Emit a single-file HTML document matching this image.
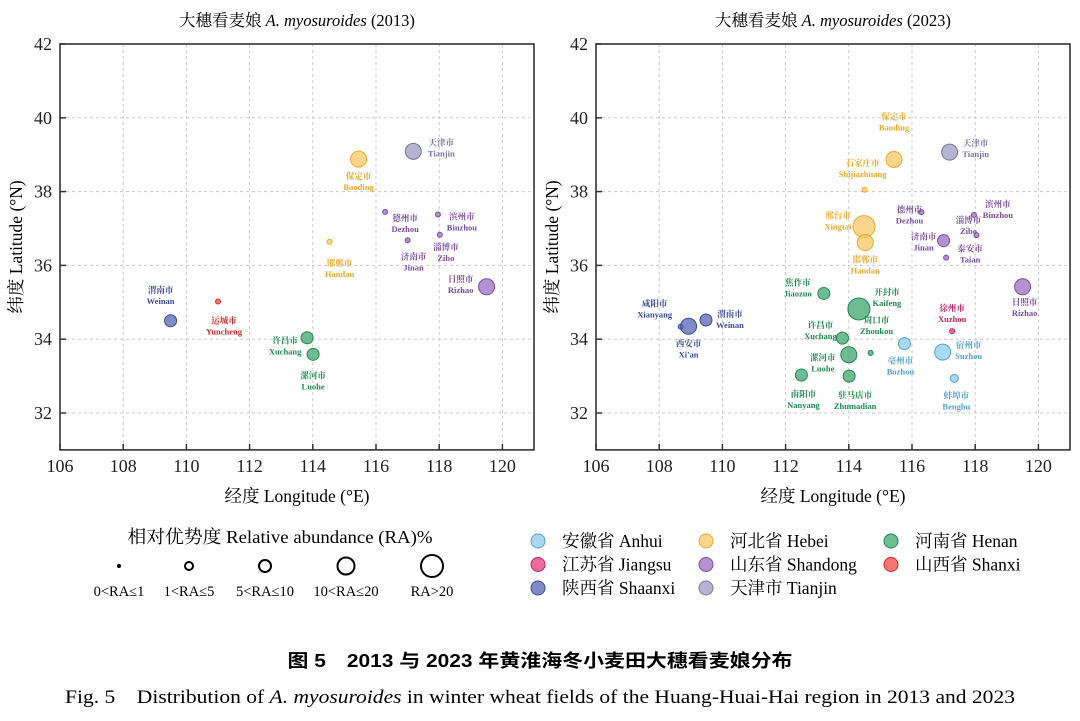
<!DOCTYPE html>
<html><head><meta charset="utf-8">
<style>
body{margin:0;background:#fff;}
svg{display:block;font-family:"Liberation Serif","Noto Serif CJK SC",serif;}
.tick{font-size:18px;fill:#222;}
.lbl{font-size:8.5px;font-weight:bold;}
</style></head>
<body>
<svg id="chart" width="1080" height="721" viewBox="0 0 1080 721">
<g id="leftPanel"></g>
<g id="rightPanel"></g>
<g>
<text x="280" y="543" text-anchor="middle" font-size="18" textLength="305" lengthAdjust="spacingAndGlyphs">相对优势度 Relative abundance (RA)%</text>
<circle cx="119" cy="566" r="2" fill="#000"/>
<circle cx="189" cy="566" r="4" fill="none" stroke="#000" stroke-width="2"/>
<circle cx="265" cy="566" r="6" fill="none" stroke="#000" stroke-width="2"/>
<circle cx="346" cy="566" r="8.5" fill="none" stroke="#000" stroke-width="2"/>
<circle cx="432" cy="566" r="11" fill="none" stroke="#000" stroke-width="2"/>
<g font-size="14.5" text-anchor="middle">
<text x="119" y="596">0&lt;RA≤1</text><text x="189" y="596">1&lt;RA≤5</text><text x="265" y="596">5&lt;RA≤10</text><text x="346" y="596">10&lt;RA≤20</text><text x="432" y="596">RA&gt;20</text>
</g>
</g>
<g id="provLegend"></g>
<text x="540" y="667" text-anchor="middle" font-size="18" font-weight="bold" font-family="Liberation Sans, Noto Sans CJK SC, sans-serif" textLength="505" lengthAdjust="spacingAndGlyphs">图 5　2013 与 2023 年黄淮海冬小麦田大穗看麦娘分布</text>
<text x="540" y="703" text-anchor="middle" font-size="19" textLength="950" lengthAdjust="spacingAndGlyphs">Fig. 5　Distribution of <tspan font-style="italic">A. myosuroides</tspan> in winter wheat fields of the Huang-Huai-Hai region in 2013 and 2023</text>
</svg>
<script>
const xTicks=[106,108,110,112,114,116,118,120];
const yTicks=[32,34,36,38,40,42];
const provinces=["Anhui","Hebei","Henan","Jiangsu","Shandong","Shanxi","Shaanxi","Tianjin"];
const provNames=["安徽省 Anhui","河北省 Hebei","河南省 Henan","江苏省 Jiangsu","山东省 Shandong","山西省 Shanxi","陕西省 Shaanxi","天津市 Tianjin"];
const fills={Anhui:"#8ccbea",Hebei:"#f8c865",Henan:"#3ea66c",Jiangsu:"#e83a80",Shandong:"#9b6cc0",Shanxi:"#ec4a45",Shaanxi:"#5566b6",Tianjin:"#9c9ac2"};
const strokes={Anhui:"#4fa3d0",Hebei:"#e9a92a",Henan:"#1e8a4e",Jiangsu:"#c81e63",Shandong:"#7a4ca3",Shanxi:"#cf2a26",Shaanxi:"#3a4a9a",Tianjin:"#77759f"};
// 2013 data
const cities13=["Weinan","Yuncheng","Xuchang","Luohe","Handan","Baoding","Tianjin","Dezhou","Binzhou","Jinan","Zibo","Rizhao"];
const cn13=["渭南市","运城市","许昌市","漯河市","邯郸市","保定市","天津市","德州市","滨州市","济南市","淄博市","日照市"];
const prov13=["Shaanxi","Shanxi","Henan","Henan","Hebei","Hebei","Tianjin","Shandong","Shandong","Shandong","Shandong","Shandong"];
const lon13=[109.5,111.0,113.82,114.01,114.53,115.45,117.18,116.29,117.96,117.0,118.02,119.5];
const lat13=[34.5,35.02,34.04,33.59,36.64,38.88,39.09,37.45,37.38,36.68,36.83,35.42];
const ra13=[3,1,3,3,1,4,4,1,1,1,1,4];
// 2023 data
const cities23=["Xianyang","Xi'an","Weinan","Jiaozuo","Kaifeng","Xuchang","Zhoukou","Luohe","Nanyang","Zhumadian","Bozhou","Suzhou","Bengbu","Xuzhou","Shijiazhuang","Baoding","Xingtai","Handan","Tianjin","Dezhou","Binzhou","Zibo","Jinan","Taian","Rizhao"];
const cn23=["咸阳市","西安市","渭南市","焦作市","开封市","许昌市","周口市","漯河市","南阳市","驻马店市","亳州市","宿州市","蚌埠市","徐州市","石家庄市","保定市","邢台市","邯郸市","天津市","德州市","滨州市","淄博市","济南市","泰安市","日照市"];
const prov23=["Shaanxi","Shaanxi","Shaanxi","Henan","Henan","Henan","Henan","Henan","Henan","Henan","Anhui","Anhui","Anhui","Jiangsu","Hebei","Hebei","Hebei","Hebei","Tianjin","Shandong","Shandong","Shandong","Shandong","Shandong","Shandong"];
const lon23=[108.68,108.93,109.48,113.21,114.32,113.8,114.69,114.0,112.5,114.01,115.76,116.97,117.34,117.27,114.5,115.43,114.48,114.52,117.19,116.3,117.96,118.04,117.0,117.08,119.5];
const lat23=[34.34,34.35,34.52,35.24,34.82,34.03,33.63,33.58,33.03,33.0,33.88,33.65,32.94,34.22,38.05,38.87,37.05,36.62,39.07,37.44,37.37,36.82,36.67,36.21,35.42];
const ra23=[1,4,3,3,5,3,1,4,3,3,3,4,2,1,1,4,5,4,4,1,1,1,3,1,4];
// label layout offsets (pixels), style only
const off13=[[-10,-26],[6,24],[-22,8],[0,26],[10,26],[0,22],[28,-4],[20,11],[24,7],[6,21],[6,17],[-26,-3]];
const off23=[[-26,-18],[0,22],[24,-1],[-26,-6],[28,-12],[-22,-8],[6,-28],[-26,8],[2,24],[6,24],[-4,22],[26,-2],[2,22],[0,-18],[-2,-22],[0,-38],[-26,-6],[0,22],[26,-4],[-12,2],[24,-6],[-8,-10],[-20,1],[24,-4],[2,20]];
const radii=[0,2.5,4,6,8,11];
const NS="http://www.w3.org/2000/svg";
function mk(tag,attrs,parent){const e=document.createElementNS(NS,tag);for(const k in attrs)e.setAttribute(k,attrs[k]);parent.appendChild(e);return e;}
function panel(g,x0,title,year,cities,cn,prov,lon,lat,ra,off){
  const X=v=>x0+(v-106)*31.6, Y=v=>413-(v-32)*36.9;
  const top=Y(42), bot=Y(31), right=X(121);
  for(const t of xTicks){const l=mk("line",{x1:X(t),x2:X(t),y1:top,y2:bot,stroke:"#c8c8c8","stroke-dasharray":"3,3"},g);
    
    }
  for(const t of yTicks){const l=mk("line",{x1:x0,x2:right,y1:Y(t),y2:Y(t),stroke:"#c8c8c8","stroke-dasharray":"3,3"},g);
    
    }
  const fr=mk("rect",{x:x0,y:top,width:right-x0,height:bot-top,fill:"none",stroke:"#333","stroke-width":1.6},g);
  
  
  for(const t of xTicks){mk("line",{x1:X(t),x2:X(t),y1:bot,y2:bot-6,stroke:"#333","stroke-width":1.5},g);
    const tx=mk("text",{x:X(t),y:bot+22,"text-anchor":"middle",class:"tick"},g);tx.textContent=t;
    
    }
  for(const t of yTicks){mk("line",{x1:x0,x2:x0+6,y1:Y(t),y2:Y(t),stroke:"#333","stroke-width":1.5},g);
    const tx=mk("text",{x:x0-8,y:Y(t)+6,"text-anchor":"end",class:"tick"},g);tx.textContent=t;
    
    }
  const tt=mk("text",{x:(x0+right)/2,y:26,"text-anchor":"middle","font-size":"16.5"},g);
  tt.innerHTML='大穗看麦娘 <tspan font-style="italic">A. myosuroides</tspan> ('+year+')';
  
  
  const xl=mk("text",{x:(x0+right)/2,y:502,"text-anchor":"middle","font-size":"17.5"},g);xl.textContent="经度 Longitude (°E)";
  
  
  const yl=mk("text",{x:0,y:0,"text-anchor":"middle","font-size":"17.5",transform:`translate(${x0-38},${(top+bot)/2}) rotate(-90)`},g);yl.textContent="纬度 Latitude (°N)";
  
  
  cities.forEach((c,i)=>{
    const cx=X(lon[i]),cy=Y(lat[i]),p=prov[i];
    const ci=mk("circle",{cx:cx,cy:cy,r:radii[ra[i]],fill:fills[p],"fill-opacity":0.75,stroke:strokes[p],"stroke-width":1},g);
    
    
    const lx=cx+off[i][0], ly=cy+off[i][1];
    const t1=mk("text",{x:lx,y:ly-2,"text-anchor":"middle",class:"lbl",fill:strokes[p]},g);t1.textContent=cn[i];
    
    
    const t2=mk("text",{x:lx,y:ly+9,"text-anchor":"middle",class:"lbl",fill:strokes[p]},g);t2.textContent=c;
    
    
  });
}
panel(document.getElementById("leftPanel"),60,"",2013,cities13,cn13,prov13,lon13,lat13,ra13,off13);
panel(document.getElementById("rightPanel"),596,"",2023,cities23,cn23,prov23,lon23,lat23,ra23,off23);
const lg=document.getElementById("provLegend");
const order=["Anhui","Hebei","Henan","Jiangsu","Shandong","Shanxi","Shaanxi","Tianjin"];
order.forEach((p,i)=>{
  const col=i%3,row=Math.floor(i/3);
  const cx=[538,706,891][col], cy=541+row*23.5;
  const c=mk("circle",{cx:cx,cy:cy,r:7,fill:fills[p],"fill-opacity":0.75,stroke:strokes[p],"stroke-width":1},lg);
  
  
  const t=mk("text",{x:cx+24,y:cy+6,"font-size":"17.5"},lg);t.textContent=provNames[provinces.indexOf(p)];
  
  
});
</script>
</body></html>
